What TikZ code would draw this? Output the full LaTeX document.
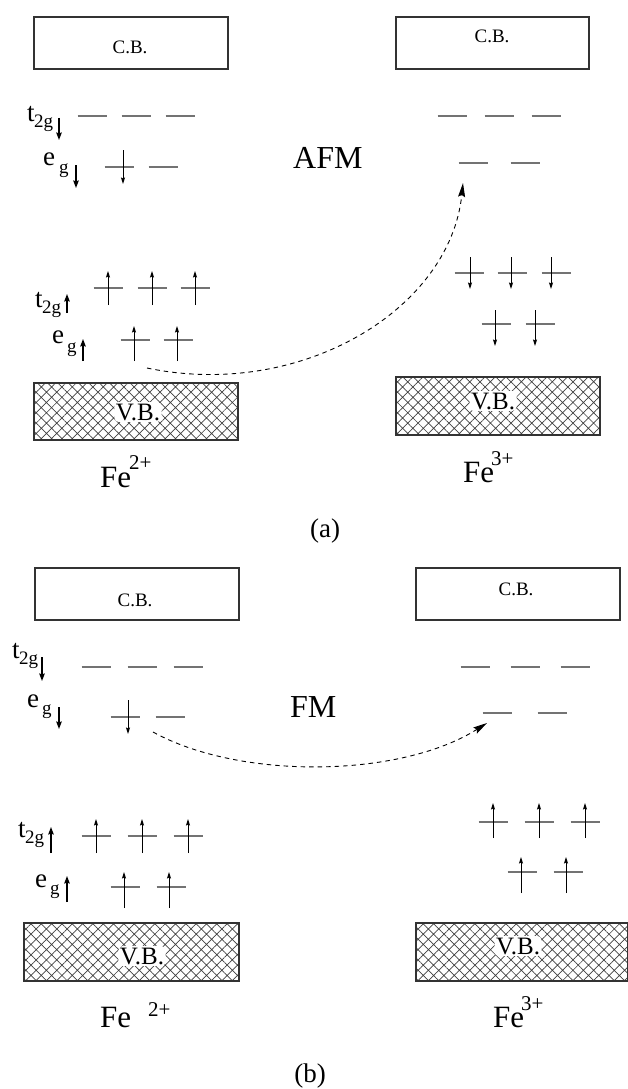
\documentclass[tikz,border=0pt]{standalone}
\usepackage{fontspec}
\setmainfont{Liberation Serif}
\usetikzlibrary{arrows.meta,patterns.meta}
\tikzset{
  lvl/.style={draw=black!55, line width=1.3pt},
  spin/.style={draw=black, line width=0.9pt, -{Stealth[length=6.5pt,width=4pt,inset=1pt]}},
  lblarrow/.style={draw=black, line width=1.4pt, -{Stealth[length=7.5pt,width=5.5pt,inset=1pt]}},
  cbbox/.style={draw=black!80, line width=1.2pt},
  vbbox/.style={draw=black!80, line width=1.2pt, pattern={Hatch[angle=45,distance=7.3pt,line width=0.7pt]}, pattern color=black!75},
  cbtxt/.style={font=\fontsize{19}{19}\selectfont, inner sep=0pt, anchor=base},
  vbtxt/.style={font=\fontsize{25}{25}\selectfont, inner xsep=1.5pt, inner ysep=1.5pt, fill=white, rounded corners=4pt, anchor=base},
  bigtxt/.style={font=\fontsize{32}{32}\selectfont, inner sep=0pt, anchor=base west},
  fetxt/.style={font=\fontsize{31}{31}\selectfont, inner sep=0pt, anchor=base west},
  suptxt/.style={font=\fontsize{21}{21}\selectfont, inner sep=0pt, anchor=base west},
  lbltxt/.style={font=\fontsize{27}{27}\selectfont, inner sep=0pt, anchor=base west},
  subtxt/.style={font=\fontsize{19}{19}\selectfont, inner sep=0pt, anchor=base west},
  captxt/.style={font=\fontsize{27}{27}\selectfont, inner sep=0pt, anchor=base},
  curve/.style={draw=black, line width=0.9pt, dash pattern=on 4.5pt off 4pt, -{Stealth[length=14pt,width=7pt,inset=2pt]}},
}
\newcommand{\lev}[2]{\draw[lvl] ({#1-14.5},#2) -- ({#1+14.5},#2);}
\newcommand{\spn}[3]{\draw[spin] (#1,#2) -- (#1,#3);}
\begin{document}
\begin{tikzpicture}[x=1pt,y=-1pt]
\useasboundingbox (0,0) rectangle (627,1089);

% ================= panel (a) =================
% conduction bands
\draw[cbbox] (34,17) rectangle (228,69);
\node[cbtxt] (cbAL) at (130,54) {C.B.};
\draw[cbbox] (396,17) rectangle (589,69);
\node[cbtxt] (cbAR) at (492,43) {C.B.};
% valence bands
\draw[vbbox] (34,383) rectangle (238,440);
\node[vbtxt] (vbAL) at (138,420) {V.B.};
\draw[vbbox] (396,377) rectangle (600,435);
\node[vbtxt] (vbAR) at (493,409) {V.B.};

% labels left (a)
\node[lbltxt] (tA1) at (27,122) {t};
\node[subtxt] (sA1) at (34,128) {2g};
\draw[lblarrow] (59,118) -- (59,140);
\node[lbltxt] (eA1) at (43,165) {e};
\node[subtxt] (gA1) at (59,173) {g};
\draw[lblarrow] (76,165) -- (76,188);
\node[lbltxt] (tA2) at (35,307) {t};
\node[subtxt] (sA2) at (42,313) {2g};
\draw[lblarrow] (67,313) -- (67,294);
\node[lbltxt] (eA2) at (52,343) {e};
\node[subtxt] (gA2) at (67,352) {g};
\draw[lblarrow] (83,361) -- (83,339);

% levels left (a)
\lev{92}{116}\lev{136}{116}\lev{180}{116}
\lev{119}{167}\lev{163}{167}
\spn{123}{150}{184}
\lev{108}{288}\lev{152}{288}\lev{195}{288}
\spn{108}{305}{271}\spn{152}{305}{271}\spn{195}{305}{271}
\lev{135}{340}\lev{178}{340}
\spn{134}{361}{326}\spn{177}{361}{326}

% levels right (a)
\lev{452}{116}\lev{499}{116}\lev{546}{116}
\lev{473}{163}\lev{525}{163}
\lev{469}{273}\lev{512}{273}\lev{556}{273}
\spn{470}{257}{289}\spn{511}{257}{289}\spn{551}{257}{289}
\lev{496}{324}\lev{540}{324}
\spn{495}{310}{346}\spn{535}{310}{346}

\node[bigtxt] (afm) at (293,168) {AFM};
\coordinate (startA) at (147,368);
\coordinate (endA) at (463,183);
\draw[curve] (startA) .. controls (300,400) and (450,310) .. (endA);

\node[fetxt] (feA2) at (100,487) {Fe};
\node[suptxt] (feA2s) at (129,469) {2+};
\node[fetxt] (feA3) at (463,482) {Fe};
\node[suptxt] (feA3s) at (491,465) {3+};
\node[captxt] (capA) at (325,537) {(a)};

% ================= panel (b) =================
\draw[cbbox] (35,568) rectangle (239,620);
\node[cbtxt] (cbBL) at (135,606) {C.B.};
\draw[cbbox] (416,568) rectangle (620,620);
\node[cbtxt] (cbBR) at (516,595) {C.B.};
\draw[vbbox] (24,923) rectangle (239,981);
\node[vbtxt] (vbBL) at (142,964) {V.B.};
\draw[vbbox] (416,923) rectangle (628,981);
\node[vbtxt] (vbBR) at (518,954) {V.B.};

% labels left (b)
\node[lbltxt] (tB1) at (12,658) {t};
\node[subtxt] (sB1) at (19,664) {2g};
\draw[lblarrow] (42,657) -- (42,681);
\node[lbltxt] (eB1) at (27,707) {e};
\node[subtxt] (gB1) at (42,714) {g};
\draw[lblarrow] (59,707) -- (59,729);
\node[lbltxt] (tB2) at (18,837) {t};
\node[subtxt] (sB2) at (25,843) {2g};
\draw[lblarrow] (51,853) -- (51,827);
\node[lbltxt] (eB2) at (35,887) {e};
\node[subtxt] (gB2) at (50,894) {g};
\draw[lblarrow] (67,902) -- (67,876);

% levels left (b)
\lev{96}{667}\lev{142}{667}\lev{188}{667}
\lev{125}{717}\lev{170}{717}
\spn{128}{700}{734}
\lev{96}{836}\lev{142}{836}\lev{188}{836}
\spn{96}{853}{819}\spn{142}{853}{819}\spn{188}{853}{819}
\lev{125}{887}\lev{171}{887}
\spn{124}{908}{872}\spn{169}{908}{872}

% levels right (b)
\lev{475}{667}\lev{525}{667}\lev{575}{667}
\lev{497}{713}\lev{552}{713}
\lev{493}{822}\lev{539}{822}\lev{585}{822}
\spn{493}{838}{803}\spn{539}{838}{803}\spn{585}{838}{803}
\lev{522}{872}\lev{568}{872}
\spn{521}{893}{857}\spn{566}{893}{857}

\node[bigtxt] (fm) at (290,717) {FM};
\coordinate (startB) at (153,732);
\coordinate (endB) at (487,723);
\draw[curve] (startB) .. controls (240,780) and (400,778) .. (endB);

\node[fetxt] (feB2) at (100,1027) {Fe};
\node[suptxt] (feB2s) at (148,1016) {2+};
\node[fetxt] (feB3) at (493,1027) {Fe};
\node[suptxt] (feB3s) at (521,1010) {3+};
\node[captxt] (capB) at (310,1082) {(b)};
\end{tikzpicture}
\end{document}
